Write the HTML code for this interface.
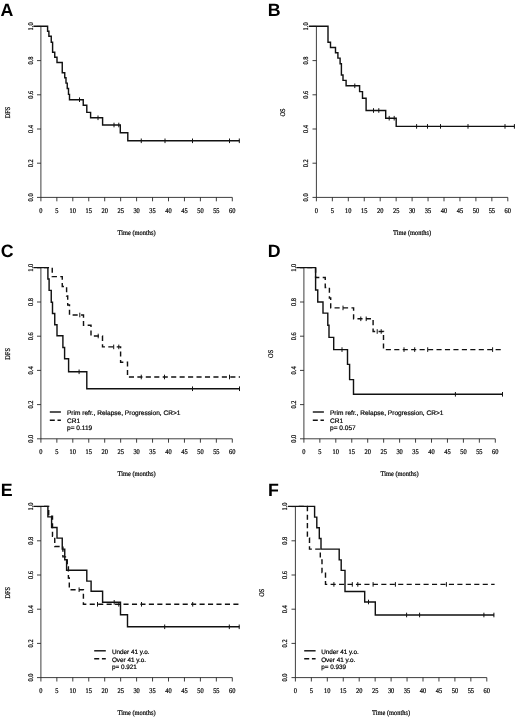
<!DOCTYPE html>
<html lang="en"><head><meta charset="utf-8"><title>Kaplan-Meier survival curves</title>
<style>
html,body{margin:0;padding:0;background:#fff}
body{width:520px;height:718px;overflow:hidden}
svg{display:block;text-rendering:geometricPrecision}
.ax{fill:none;stroke:#1c1c1c;stroke-width:0.85}
.cs{fill:none;stroke:#111;stroke-width:1.42;stroke-linejoin:miter}
.cd{fill:none;stroke:#111;stroke-width:1.42;stroke-dasharray:5.1 3.35;stroke-dashoffset:5.2}
.ce{fill:none;stroke:#111;stroke-width:1}
.t{font-family:'Liberation Serif', 'DejaVu Serif', serif;font-size:7.2px;fill:#000;stroke:#000;stroke-width:.22px;text-anchor:middle}
.l{font-family:'Liberation Sans', 'DejaVu Sans', sans-serif;font-size:6.55px;fill:#000;stroke:#000;stroke-width:.2px}
.p{font-family:'Liberation Sans', 'DejaVu Sans', sans-serif;font-size:17.8px;font-weight:bold;fill:#000}
</style></head><body>
<svg width="520" height="718" viewBox="0 0 520 718">
<defs><filter id="soft" x="0" y="0" width="100%" height="100%" filterUnits="userSpaceOnUse" color-interpolation-filters="sRGB"><feGaussianBlur stdDeviation="0.38"/></filter></defs>
<rect width="520" height="718" fill="#fff"/>
<g filter="url(#soft)">
<path class="ax" d="M40.9 26.4V197.4M40.9 197.4h-3.9M40.9 163.2h-3.9M40.9 129h-3.9M40.9 94.8h-3.9M40.9 60.6h-3.9M40.9 26.4h-3.9M40.9 197.4H232.3M40.9 197.4v3.9M56.85 197.4v3.9M72.8 197.4v3.9M88.75 197.4v3.9M104.7 197.4v3.9M120.65 197.4v3.9M136.6 197.4v3.9M152.55 197.4v3.9M168.5 197.4v3.9M184.45 197.4v3.9M200.4 197.4v3.9M216.35 197.4v3.9M232.3 197.4v3.9"/>
<text class="t" transform="translate(40.9 213) scale(0.89 1)">0</text>
<text class="t" transform="translate(56.85 213) scale(0.89 1)">5</text>
<text class="t" transform="translate(72.8 213) scale(0.89 1)">10</text>
<text class="t" transform="translate(88.75 213) scale(0.89 1)">15</text>
<text class="t" transform="translate(104.7 213) scale(0.89 1)">20</text>
<text class="t" transform="translate(120.65 213) scale(0.89 1)">25</text>
<text class="t" transform="translate(136.6 213) scale(0.89 1)">30</text>
<text class="t" transform="translate(152.55 213) scale(0.89 1)">35</text>
<text class="t" transform="translate(168.5 213) scale(0.89 1)">40</text>
<text class="t" transform="translate(184.45 213) scale(0.89 1)">45</text>
<text class="t" transform="translate(200.4 213) scale(0.89 1)">50</text>
<text class="t" transform="translate(216.35 213) scale(0.89 1)">55</text>
<text class="t" transform="translate(232.3 213) scale(0.89 1)">60</text>
<text class="t" transform="translate(32.5 197.4) rotate(-90) scale(0.89 1)">0.0</text>
<text class="t" transform="translate(32.5 163.2) rotate(-90) scale(0.89 1)">0.2</text>
<text class="t" transform="translate(32.5 129) rotate(-90) scale(0.89 1)">0.4</text>
<text class="t" transform="translate(32.5 94.8) rotate(-90) scale(0.89 1)">0.6</text>
<text class="t" transform="translate(32.5 60.6) rotate(-90) scale(0.89 1)">0.8</text>
<text class="t" transform="translate(32.5 26.4) rotate(-90) scale(0.89 1)">1.0</text>
<text class="t" transform="translate(9.6 112.5) rotate(-90) scale(0.89 1)">DFS</text>
<text class="t" transform="translate(136.6 235) scale(0.89 1)">Time (months)</text>
<path class="ax" d="M316.4 26.4V197.4M316.4 197.4h-3.9M316.4 163.2h-3.9M316.4 129h-3.9M316.4 94.8h-3.9M316.4 60.6h-3.9M316.4 26.4h-3.9M316.4 197.4H507.8M316.4 197.4v3.9M332.35 197.4v3.9M348.3 197.4v3.9M364.25 197.4v3.9M380.2 197.4v3.9M396.15 197.4v3.9M412.1 197.4v3.9M428.05 197.4v3.9M444 197.4v3.9M459.95 197.4v3.9M475.9 197.4v3.9M491.85 197.4v3.9M507.8 197.4v3.9"/>
<text class="t" transform="translate(316.4 213) scale(0.89 1)">0</text>
<text class="t" transform="translate(332.35 213) scale(0.89 1)">5</text>
<text class="t" transform="translate(348.3 213) scale(0.89 1)">10</text>
<text class="t" transform="translate(364.25 213) scale(0.89 1)">15</text>
<text class="t" transform="translate(380.2 213) scale(0.89 1)">20</text>
<text class="t" transform="translate(396.15 213) scale(0.89 1)">25</text>
<text class="t" transform="translate(412.1 213) scale(0.89 1)">30</text>
<text class="t" transform="translate(428.05 213) scale(0.89 1)">35</text>
<text class="t" transform="translate(444 213) scale(0.89 1)">40</text>
<text class="t" transform="translate(459.95 213) scale(0.89 1)">45</text>
<text class="t" transform="translate(475.9 213) scale(0.89 1)">50</text>
<text class="t" transform="translate(491.85 213) scale(0.89 1)">55</text>
<text class="t" transform="translate(507.8 213) scale(0.89 1)">60</text>
<text class="t" transform="translate(308 197.4) rotate(-90) scale(0.89 1)">0.0</text>
<text class="t" transform="translate(308 163.2) rotate(-90) scale(0.89 1)">0.2</text>
<text class="t" transform="translate(308 129) rotate(-90) scale(0.89 1)">0.4</text>
<text class="t" transform="translate(308 94.8) rotate(-90) scale(0.89 1)">0.6</text>
<text class="t" transform="translate(308 60.6) rotate(-90) scale(0.89 1)">0.8</text>
<text class="t" transform="translate(308 26.4) rotate(-90) scale(0.89 1)">1.0</text>
<text class="t" transform="translate(285.1 112.5) rotate(-90) scale(0.89 1)">OS</text>
<text class="t" transform="translate(412.1 235) scale(0.89 1)">Time (months)</text>
<path class="ax" d="M40.9 267.8V438.8M40.9 438.8h-3.9M40.9 404.6h-3.9M40.9 370.4h-3.9M40.9 336.2h-3.9M40.9 302h-3.9M40.9 267.8h-3.9M40.9 438.8H232.3M40.9 438.8v3.9M56.85 438.8v3.9M72.8 438.8v3.9M88.75 438.8v3.9M104.7 438.8v3.9M120.65 438.8v3.9M136.6 438.8v3.9M152.55 438.8v3.9M168.5 438.8v3.9M184.45 438.8v3.9M200.4 438.8v3.9M216.35 438.8v3.9M232.3 438.8v3.9"/>
<text class="t" transform="translate(40.9 454) scale(0.89 1)">0</text>
<text class="t" transform="translate(56.85 454) scale(0.89 1)">5</text>
<text class="t" transform="translate(72.8 454) scale(0.89 1)">10</text>
<text class="t" transform="translate(88.75 454) scale(0.89 1)">15</text>
<text class="t" transform="translate(104.7 454) scale(0.89 1)">20</text>
<text class="t" transform="translate(120.65 454) scale(0.89 1)">25</text>
<text class="t" transform="translate(136.6 454) scale(0.89 1)">30</text>
<text class="t" transform="translate(152.55 454) scale(0.89 1)">35</text>
<text class="t" transform="translate(168.5 454) scale(0.89 1)">40</text>
<text class="t" transform="translate(184.45 454) scale(0.89 1)">45</text>
<text class="t" transform="translate(200.4 454) scale(0.89 1)">50</text>
<text class="t" transform="translate(216.35 454) scale(0.89 1)">55</text>
<text class="t" transform="translate(232.3 454) scale(0.89 1)">60</text>
<text class="t" transform="translate(32.5 438.8) rotate(-90) scale(0.89 1)">0.0</text>
<text class="t" transform="translate(32.5 404.6) rotate(-90) scale(0.89 1)">0.2</text>
<text class="t" transform="translate(32.5 370.4) rotate(-90) scale(0.89 1)">0.4</text>
<text class="t" transform="translate(32.5 336.2) rotate(-90) scale(0.89 1)">0.6</text>
<text class="t" transform="translate(32.5 302) rotate(-90) scale(0.89 1)">0.8</text>
<text class="t" transform="translate(32.5 267.8) rotate(-90) scale(0.89 1)">1.0</text>
<text class="t" transform="translate(9.6 353.9) rotate(-90) scale(0.89 1)">DFS</text>
<text class="t" transform="translate(136.6 476) scale(0.89 1)">Time (months)</text>
<path class="ax" d="M303.9 267.8V438.8M303.9 438.8h-3.9M303.9 404.6h-3.9M303.9 370.4h-3.9M303.9 336.2h-3.9M303.9 302h-3.9M303.9 267.8h-3.9M303.9 438.8H495.3M303.9 438.8v3.9M319.85 438.8v3.9M335.8 438.8v3.9M351.75 438.8v3.9M367.7 438.8v3.9M383.65 438.8v3.9M399.6 438.8v3.9M415.55 438.8v3.9M431.5 438.8v3.9M447.45 438.8v3.9M463.4 438.8v3.9M479.35 438.8v3.9M495.3 438.8v3.9"/>
<text class="t" transform="translate(303.9 454) scale(0.89 1)">0</text>
<text class="t" transform="translate(319.85 454) scale(0.89 1)">5</text>
<text class="t" transform="translate(335.8 454) scale(0.89 1)">10</text>
<text class="t" transform="translate(351.75 454) scale(0.89 1)">15</text>
<text class="t" transform="translate(367.7 454) scale(0.89 1)">20</text>
<text class="t" transform="translate(383.65 454) scale(0.89 1)">25</text>
<text class="t" transform="translate(399.6 454) scale(0.89 1)">30</text>
<text class="t" transform="translate(415.55 454) scale(0.89 1)">35</text>
<text class="t" transform="translate(431.5 454) scale(0.89 1)">40</text>
<text class="t" transform="translate(447.45 454) scale(0.89 1)">45</text>
<text class="t" transform="translate(463.4 454) scale(0.89 1)">50</text>
<text class="t" transform="translate(479.35 454) scale(0.89 1)">55</text>
<text class="t" transform="translate(495.3 454) scale(0.89 1)">60</text>
<text class="t" transform="translate(295.5 438.8) rotate(-90) scale(0.89 1)">0.0</text>
<text class="t" transform="translate(295.5 404.6) rotate(-90) scale(0.89 1)">0.2</text>
<text class="t" transform="translate(295.5 370.4) rotate(-90) scale(0.89 1)">0.4</text>
<text class="t" transform="translate(295.5 336.2) rotate(-90) scale(0.89 1)">0.6</text>
<text class="t" transform="translate(295.5 302) rotate(-90) scale(0.89 1)">0.8</text>
<text class="t" transform="translate(295.5 267.8) rotate(-90) scale(0.89 1)">1.0</text>
<text class="t" transform="translate(272.6 353.9) rotate(-90) scale(0.89 1)">OS</text>
<text class="t" transform="translate(399.6 476) scale(0.89 1)">Time (months)</text>
<path class="ax" d="M40.9 506.6V677.6M40.9 677.6h-3.9M40.9 643.4h-3.9M40.9 609.2h-3.9M40.9 575h-3.9M40.9 540.8h-3.9M40.9 506.6h-3.9M40.9 677.6H232.3M40.9 677.6v3.9M56.85 677.6v3.9M72.8 677.6v3.9M88.75 677.6v3.9M104.7 677.6v3.9M120.65 677.6v3.9M136.6 677.6v3.9M152.55 677.6v3.9M168.5 677.6v3.9M184.45 677.6v3.9M200.4 677.6v3.9M216.35 677.6v3.9M232.3 677.6v3.9"/>
<text class="t" transform="translate(40.9 693) scale(0.89 1)">0</text>
<text class="t" transform="translate(56.85 693) scale(0.89 1)">5</text>
<text class="t" transform="translate(72.8 693) scale(0.89 1)">10</text>
<text class="t" transform="translate(88.75 693) scale(0.89 1)">15</text>
<text class="t" transform="translate(104.7 693) scale(0.89 1)">20</text>
<text class="t" transform="translate(120.65 693) scale(0.89 1)">25</text>
<text class="t" transform="translate(136.6 693) scale(0.89 1)">30</text>
<text class="t" transform="translate(152.55 693) scale(0.89 1)">35</text>
<text class="t" transform="translate(168.5 693) scale(0.89 1)">40</text>
<text class="t" transform="translate(184.45 693) scale(0.89 1)">45</text>
<text class="t" transform="translate(200.4 693) scale(0.89 1)">50</text>
<text class="t" transform="translate(216.35 693) scale(0.89 1)">55</text>
<text class="t" transform="translate(232.3 693) scale(0.89 1)">60</text>
<text class="t" transform="translate(32.5 677.6) rotate(-90) scale(0.89 1)">0.0</text>
<text class="t" transform="translate(32.5 643.4) rotate(-90) scale(0.89 1)">0.2</text>
<text class="t" transform="translate(32.5 609.2) rotate(-90) scale(0.89 1)">0.4</text>
<text class="t" transform="translate(32.5 575) rotate(-90) scale(0.89 1)">0.6</text>
<text class="t" transform="translate(32.5 540.8) rotate(-90) scale(0.89 1)">0.8</text>
<text class="t" transform="translate(32.5 506.6) rotate(-90) scale(0.89 1)">1.0</text>
<text class="t" transform="translate(9.6 592.7) rotate(-90) scale(0.89 1)">DFS</text>
<text class="t" transform="translate(136.6 715) scale(0.89 1)">Time (months)</text>
<path class="ax" d="M295.4 506.6V677.6M295.4 677.6h-3.9M295.4 643.4h-3.9M295.4 609.2h-3.9M295.4 575h-3.9M295.4 540.8h-3.9M295.4 506.6h-3.9M295.4 677.6H486.8M295.4 677.6v3.9M311.35 677.6v3.9M327.3 677.6v3.9M343.25 677.6v3.9M359.2 677.6v3.9M375.15 677.6v3.9M391.1 677.6v3.9M407.05 677.6v3.9M423 677.6v3.9M438.95 677.6v3.9M454.9 677.6v3.9M470.85 677.6v3.9M486.8 677.6v3.9"/>
<text class="t" transform="translate(295.4 693) scale(0.89 1)">0</text>
<text class="t" transform="translate(311.35 693) scale(0.89 1)">5</text>
<text class="t" transform="translate(327.3 693) scale(0.89 1)">10</text>
<text class="t" transform="translate(343.25 693) scale(0.89 1)">15</text>
<text class="t" transform="translate(359.2 693) scale(0.89 1)">20</text>
<text class="t" transform="translate(375.15 693) scale(0.89 1)">25</text>
<text class="t" transform="translate(391.1 693) scale(0.89 1)">30</text>
<text class="t" transform="translate(407.05 693) scale(0.89 1)">35</text>
<text class="t" transform="translate(423 693) scale(0.89 1)">40</text>
<text class="t" transform="translate(438.95 693) scale(0.89 1)">45</text>
<text class="t" transform="translate(454.9 693) scale(0.89 1)">50</text>
<text class="t" transform="translate(470.85 693) scale(0.89 1)">55</text>
<text class="t" transform="translate(486.8 693) scale(0.89 1)">60</text>
<text class="t" transform="translate(287 677.6) rotate(-90) scale(0.89 1)">0.0</text>
<text class="t" transform="translate(287 643.4) rotate(-90) scale(0.89 1)">0.2</text>
<text class="t" transform="translate(287 609.2) rotate(-90) scale(0.89 1)">0.4</text>
<text class="t" transform="translate(287 575) rotate(-90) scale(0.89 1)">0.6</text>
<text class="t" transform="translate(287 540.8) rotate(-90) scale(0.89 1)">0.8</text>
<text class="t" transform="translate(287 506.6) rotate(-90) scale(0.89 1)">1.0</text>
<text class="t" transform="translate(264.1 592.7) rotate(-90) scale(0.89 1)">OS</text>
<text class="t" transform="translate(391.1 715) scale(0.89 1)">Time (months)</text>
<path class="cs" d="M33.4 26.2H47.6V31.3H48.9V36.3H51.25V42.2H52.6V52.3H54.75V57.3H57V62.5H62.25V72.75H64.75V77.75H66V83.1H67.25V88.5H68.5V94.4H69.5V99.7H83.25V105.2H86.8V112.4H90.6V117.8H102.6V125H120.3V132.7H127.8V140.8H239.5"/>
<path class="ce" d="M79.5 97.4v4.6M98 115.5v4.6M114 122.7v4.6M118.8 122.7v4.6M141.25 138.5v4.6M165 138.5v4.6M192.5 138.5v4.6M229.5 138.5v4.6M239.3 138.5v4.6"/>
<path class="cs" d="M308.9 26.2H328V42.25H330.5V47.5H335.5V52.75H337.9V58.1H340.1V63.75H341.4V75H343V80.4H346.1V85.8H359.6V91.6H362.5V98.3H366.1V110.5H385.7V118.2H396.2V126.4H514.6"/>
<path class="ce" d="M354.8 83.5v4.6M373.5 108.2v4.6M378.8 108.2v4.6M389.2 115.9v4.6M394.2 115.9v4.6M416.6 124.1v4.6M427.5 124.1v4.6M440.5 124.1v4.6M468 124.1v4.6M505 124.1v4.6M514.4 124.1v4.6"/>
<path class="cd" d="M40.7 267.6H52.25V276.6H62.25V286.5H66.6V296H67.7V305H69.5V315H83.5V325.3H91V336H102.5V346.9H120.6V362.3H127.5V377H240"/>
<path class="ce" d="M79.8 312.7v4.6M98.2 333.7v4.6M113.7 344.6v4.6M118.8 344.6v4.6M141.25 374.7v4.6M164.5 374.7v4.6M229.5 374.7v4.6"/>
<path class="cs" d="M33.4 267.6H47.9V279H49.1V290.4H51.25V302.2H52.5V313.5H54.75V324.75H57V335.7H62.9V347.5H64.6V358.8H68.6V371.8H86.8V388.75H239.7"/>
<path class="ce" d="M79.1 369.5v4.6M192.5 386.45v4.6M239.5 386.45v4.6"/>
<path class="cd" d="M304 267.6H315.6V277.5H325.25V287.5H329.4V298H330.7V307.9H353.6V318.8H373.1V331.5H383.5V349.6H502.3"/>
<path class="ce" d="M343 305.6v4.6M360.8 316.5v4.6M366.2 316.5v4.6M377.2 329.2v4.6M381.2 329.2v4.6M404 347.3v4.6M414.7 347.3v4.6M427.7 347.3v4.6M492.6 347.3v4.6"/>
<path class="cs" d="M296.4 267.6H315.6V290H317.75V302H323V313.1H327.8V325.2H329V337.4H333.7V349.6H347.5V364.4H349.6V379.6H353.5V394.3H502.7"/>
<path class="ce" d="M342 347.3v4.6M455.4 392v4.6M502.5 392v4.6"/>
<path class="cd" d="M40.7 506.4H48.7V516.3H52.5V536.3H54.75V546.5H62.9V556.9H67.25V567H68.4V578H69.3V589.7H83.4V604.3H239.8"/>
<path class="ce" d="M79.1 587.4v4.6M97.5 602v4.6M118.8 602v4.6M141.5 602v4.6M192.7 602v4.6"/>
<path class="cs" d="M33.4 506.4H47.9V516.9H51.6V527.5H57V538.1H62.25V549.1H64.75V559.75H66.6V570.3H86.8V581.1H91.1V591.2H102.6V602.3H120.5V614.8H127.5V626.8H239.5"/>
<path class="ce" d="M114.2 600v4.6M164.7 624.5v4.6M229.3 624.5v4.6M239.2 624.5v4.6"/>
<path class="cd" d="M295.5 506.4H307.4V538H309.5V549.1H320.3V560H322V572.5H325.5V584.4H494.6"/>
<path class="ce" d="M333.9 582.1v4.6M352.3 582.1v4.6M357.8 582.1v4.6M373.1 582.1v4.6M395.4 582.1v4.6M446.4 582.1v4.6"/>
<path class="cs" d="M287.9 506.4H314.6V517.1H316.8V527.8H319.3V538.5H321V549.1H339.2V559.9H341.2V570.4H345V591.5H364.7V602H375.3V615H494.1"/>
<path class="ce" d="M368.5 599.7v4.6M406.6 612.7v4.6M419.6 612.7v4.6M483.9 612.7v4.6M493.9 612.7v4.6"/>
<path class="cs" d="M49.8 412H60.9"/>
<path class="cs" d="M49.8 420.2h5M57.5 420.2H60.9"/>
<text class="l" x="67" y="415.2">Prim refr., Relapse, Progression, CR&gt;1</text>
<text class="l" x="67" y="422.9">CR1</text>
<text class="l" x="67" y="430.1">p= 0.119</text>
<path class="cs" d="M312.8 412H323.9"/>
<path class="cs" d="M312.8 420.2h5M320.5 420.2H323.9"/>
<text class="l" x="330" y="415.2">Prim refr., Relapse, Progression, CR&gt;1</text>
<text class="l" x="330" y="422.9">CR1</text>
<text class="l" x="330" y="430.1">p= 0.057</text>
<path class="cs" d="M94.2 650.8H105.8"/>
<path class="cs" d="M94.2 658.8h5M101.9 658.8H105.8"/>
<text class="l" style="font-size:6.35px" x="111.9" y="654">Under 41 y.o.</text>
<text class="l" style="font-size:6.35px" x="111.9" y="661.7">Over 41 y.o.</text>
<text class="l" style="font-size:6.35px" x="111.9" y="669.2">p= 0.921</text>
<path class="cs" d="M304.2 650.8H315.6"/>
<path class="cs" d="M304.2 658.8h5M311.9 658.8H315.6"/>
<text class="l" style="font-size:6.35px" x="321.2" y="654">Under 41 y.o.</text>
<text class="l" style="font-size:6.35px" x="321.2" y="661.7">Over 41 y.o.</text>
<text class="l" style="font-size:6.35px" x="321.2" y="669.2">p= 0.939</text>
<text class="p" x="0.6" y="15.5">A</text>
<text class="p" x="267.8" y="15.5">B</text>
<text class="p" x="0.8" y="256.7">C</text>
<text class="p" x="267.8" y="256.7">D</text>
<text class="p" x="0.8" y="495.8">E</text>
<text class="p" x="268" y="495.8">F</text>
</g>
</svg>
</body></html>
